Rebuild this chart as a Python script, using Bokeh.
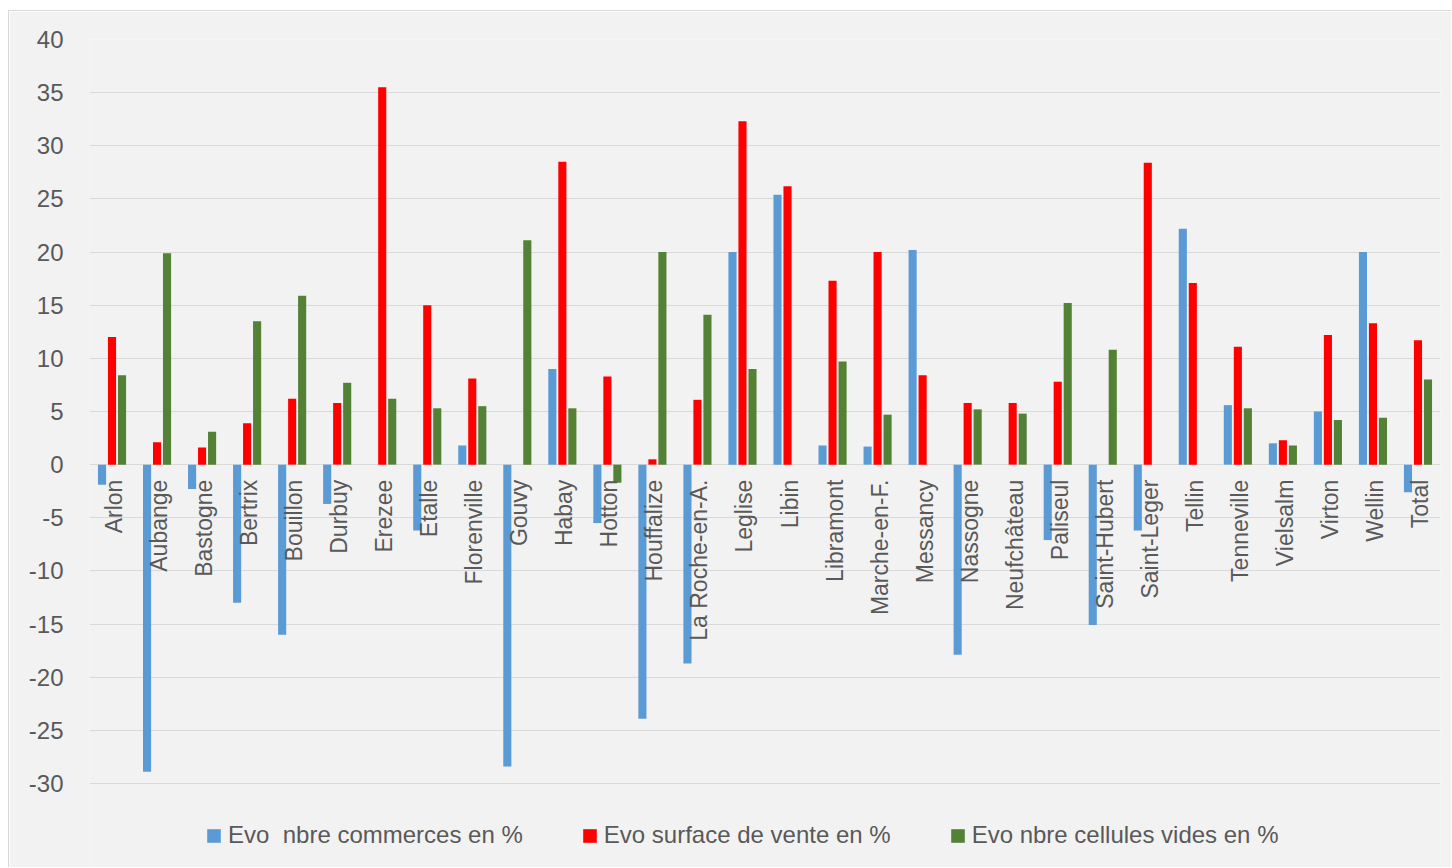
from math import pi

from bokeh.plotting import figure
from bokeh.models import (ColumnDataSource, FactorRange, Range1d, FixedTicker,
                          Legend, LegendItem, PrintfTickFormatter)
from bokeh.transform import dodge
from bokeh.core.properties import value
from bokeh.embed import file_html
from bokeh.resources import INLINE

communes = ["Arlon", "Aubange", "Bastogne", "Bertrix", "Bouillon", "Durbuy",
            "Erezee", "Etalle", "Florenville", "Gouvy", "Habay", "Hotton",
            "Houffalize", "La Roche-en-A.", "Leglise", "Libin", "Libramont",
            "Marche-en-F.", "Messancy", "Nassogne", "Neufchâteau", "Paliseul",
            "Saint-Hubert", "Saint-Leger", "Tellin", "Tenneville", "Vielsalm",
            "Virton", "Wellin", "Total"]

evo_commerces = [-1.9, -28.9, -2.3, -13.0, -16.0, -3.7,
                 0.0, -6.2, 1.8, -28.4, 9.0, -5.5,
                 -23.9, -18.7, 20.0, 25.4, 1.8,
                 1.7, 20.2, -17.9, 0.0, -7.1,
                 -15.1, -6.2, 22.2, 5.6, 2.0,
                 5.0, 20.0, -2.6]

evo_surface = [12.0, 2.1, 1.6, 3.9, 6.2, 5.8,
               35.5, 15.0, 8.1, 0.0, 28.5, 8.3,
               0.5, 6.1, 32.3, 26.2, 17.3,
               20.0, 8.4, 5.8, 5.8, 7.8,
               0.0, 28.4, 17.1, 11.1, 2.3,
               12.2, 13.3, 11.7]

evo_cellules = [8.4, 19.9, 3.1, 13.5, 15.9, 7.7,
                6.2, 5.3, 5.5, 21.1, 5.3, -1.7,
                20.0, 14.1, 9.0, 0.0, 9.7,
                4.7, 0.0, 5.2, 4.8, 15.2,
                10.8, 0.0, 0.0, 5.3, 1.8,
                4.2, 4.4, 8.0]

series_labels = ["Evo  nbre commerces en %", "Evo surface de vente en %",
                 "Evo nbre cellules vides en %"]
series_colors = ["#5b9bd5", "#ff0000", "#538135"]

y_ticks = list(range(-30, 45, 5))

src = ColumnDataSource(dict(commune=communes, com=evo_commerces,
                            surf=evo_surface, cel=evo_cellules,
                            zero=[0] * len(communes)))

FONT = "Liberation Sans"
TXT = "#595959"
BG = "#f2f2f2"

# the frame runs down to the bottom of the chart so the legend can sit
# inside it, beneath the lowest gridline
Y_TOP = 40
Y_BOTTOM = -38.0

p = figure(width=1443, height=857,
           x_range=FactorRange(factors=communes, range_padding=0),
           y_range=Range1d(Y_BOTTOM, Y_TOP),
           output_backend="svg", toolbar_location=None,
           min_border_left=80, min_border_right=12,
           min_border_top=28, min_border_bottom=0)

# chart card: grey panel offset from the page corner, thin border
p.styles = {"margin-left": "8px", "margin-top": "10px",
            "border-left": "1px solid #d9d9d9",
            "border-top": "1px solid #d9d9d9"}

p.background_fill_color = BG
p.border_fill_color = BG
p.outline_line_color = None

p.xaxis.visible = False
p.xgrid.visible = False

p.yaxis.ticker = FixedTicker(ticks=y_ticks)
p.yaxis.formatter = PrintfTickFormatter(format="%d")
p.yaxis.axis_line_color = None
p.yaxis.major_tick_line_color = None
p.yaxis.minor_tick_line_color = None
p.yaxis.major_label_text_font = FONT
p.yaxis.major_label_text_font_size = "24px"
p.yaxis.major_label_text_color = TXT
p.yaxis.major_label_standoff = 20
p.ygrid.ticker = FixedTicker(ticks=y_ticks)
p.ygrid.grid_line_color = "#d9d9d9"
p.ygrid.grid_line_width = 1

BAR_W = 0.18
OFF = 0.222

r_com = p.vbar(x=dodge("commune", -OFF, range=p.x_range), top="com", bottom=0,
               width=BAR_W, source=src, fill_color=series_colors[0],
               line_color=None)
r_surf = p.vbar(x=dodge("commune", 0.0, range=p.x_range), top="surf", bottom=0,
                width=BAR_W, source=src, fill_color=series_colors[1],
                line_color=None)
r_cel = p.vbar(x=dodge("commune", OFF, range=p.x_range), top="cel", bottom=0,
               width=BAR_W, source=src, fill_color=series_colors[2],
               line_color=None)

# commune names, rotated, hanging just under the zero line
p.text(x="commune", y="zero", text="commune", source=src,
       angle=pi / 2, text_align="right", text_baseline="middle",
       x_offset=2, y_offset=15,
       text_font=value(FONT), text_font_size="23px", text_color=TXT)

legend = Legend(items=[LegendItem(label=series_labels[0], renderers=[r_com]),
                       LegendItem(label=series_labels[1], renderers=[r_surf]),
                       LegendItem(label=series_labels[2], renderers=[r_cel])],
                orientation="horizontal", location=(116, 19),
                glyph_width=17, glyph_height=17, label_standoff=6,
                spacing=58, padding=0, margin=0,
                label_text_font=FONT, label_text_font_size="24px",
                label_text_color=TXT,
                border_line_color=None, background_fill_alpha=0)
p.add_layout(legend, "center")

open("out.html", "w").write(file_html(p, INLINE))
